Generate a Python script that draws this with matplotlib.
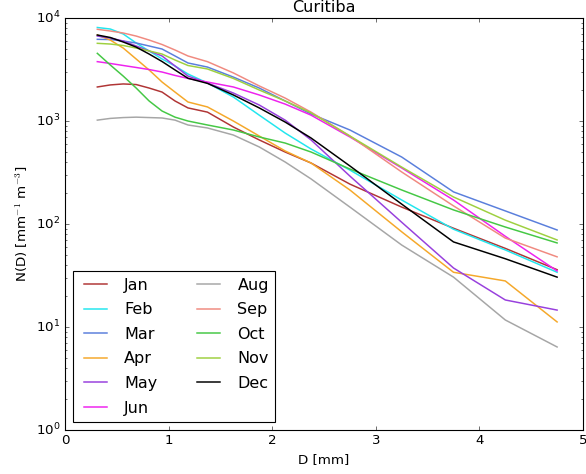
import numpy as np
import matplotlib
matplotlib.use("Agg")
import matplotlib.pyplot as plt

# drop size classes (mm), class centres
diam = [0.312, 0.437, 0.562, 0.687, 0.812, 0.937, 1.062, 1.187, 1.375,
        1.625, 1.875, 2.125, 2.375, 2.75, 3.25, 3.75, 4.25, 4.75]

# mean monthly drop size distributions N(D) [mm^-1 m^-3]
jan = [2140, 2240, 2290, 2260, 2090, 1910, 1565, 1340, 1220, 875, 655, 500, 391, 244, 146, 91, 58, 36]
feb = [8090, 7820, 7000, 5720, 4790, 4000, 3420, 2860, 2340, 1710, 1140, 764, 535, 334, 171, 89, 56, 34]
mar = [6210, 6180, 5980, 5720, 5350, 5000, 4280, 3660, 3340, 2670, 2090, 1565, 1170, 818, 447, 205, 134, 87.5]
apr = [6840, 6110, 5110, 4000, 3130, 2390, 1910, 1530, 1370, 1000, 715, 512, 391, 214, 84, 34, 28, 11.2]
may = [6680, 6390, 5980, 5350, 4790, 4280, 3420, 2730, 2340, 1870, 1430, 1020, 655, 292, 104, 37.4, 18.3, 14.6]
jun = [3770, 3620, 3460, 3310, 3160, 2990, 2770, 2590, 2390, 2140, 1790, 1460, 1140, 700, 350, 171, 76, 35]
aug = [1020, 1060, 1080, 1090, 1080, 1070, 1020, 915, 856, 731, 560, 400, 274, 146, 62.5, 30.5, 11.7, 6.4]
sep = [7770, 7480, 7150, 6680, 6110, 5530, 4890, 4280, 3770, 2930, 2190, 1670, 1220, 715, 320, 150, 73, 48]
oct_ = [4540, 3500, 2730, 2090, 1565, 1250, 1090, 1000, 915, 818, 700, 611, 500, 342, 214, 137, 93.5, 65.5]
nov = [5680, 5590, 5410, 5110, 4790, 4470, 3910, 3460, 3200, 2590, 2000, 1565, 1200, 715, 357, 183, 109, 70]
dec = [6840, 6470, 5850, 5220, 4470, 3780, 3130, 2600, 2320, 1790, 1340, 977, 684, 366, 156, 67, 46, 30.5]

months = ["Jan", "Feb", "Mar", "Apr", "May", "Jun", "Aug", "Sep", "Oct", "Nov", "Dec"]
series = [jan, feb, mar, apr, may, jun, aug, sep, oct_, nov, dec]
colors = ["#b03535", "#22e6ee", "#5a7fdc", "#f5a82a", "#9840dd", "#ee22ee",
          "#a6a6a6", "#f08a80", "#45c845", "#9ed040", "black"]

plt.style.use("classic")
plt.rcParams["figure.facecolor"] = "white"
plt.rcParams["savefig.facecolor"] = "white"

fig = plt.figure(figsize=(586 / 80, 474 / 80), dpi=80)
ax = fig.add_axes([0.1109, 0.0928, 0.8840, 0.8692])

for name, vals, c in zip(months, series, colors):
    ax.plot(diam, vals, color=c, lw=1.35, label=name)

ax.set_yscale("log")
ax.set_xlim(0, 5)
ax.set_ylim(1, 1e4)
ax.set_xlabel("D [mm]")
ax.set_ylabel(r"N(D) [mm$^{-1}$ m$^{-3}$]")
ax.set_title("Curitiba")
ax.legend(loc="lower left", ncol=2, labelspacing=0.6, columnspacing=2.2)

fig.savefig("out.png", dpi=80)
